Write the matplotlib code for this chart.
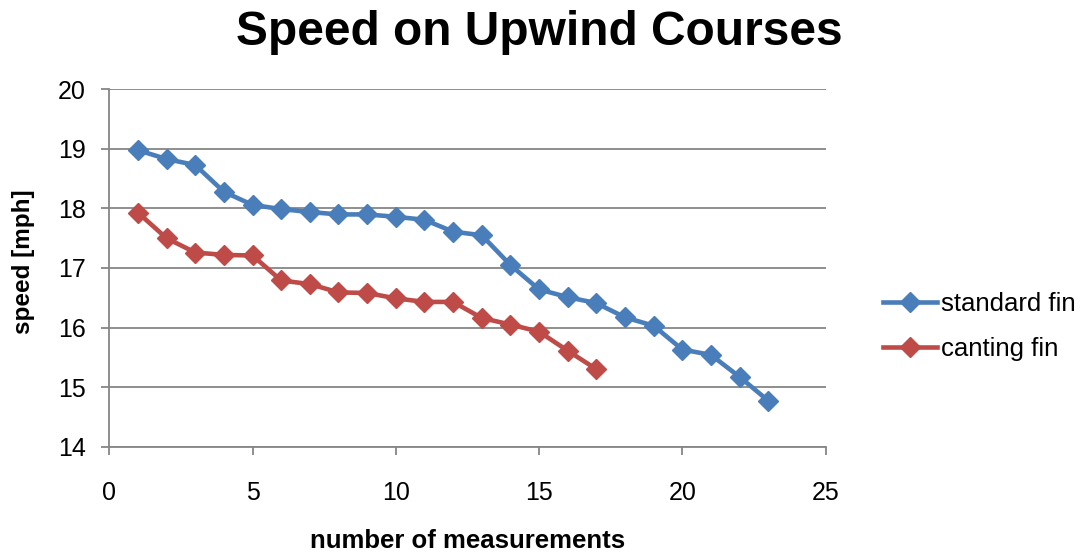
import matplotlib
matplotlib.use("Agg")
import matplotlib.pyplot as plt

measurements_std = list(range(1, 24))
standard_fin = [18.98, 18.83, 18.73, 18.28, 18.06, 17.99, 17.94, 17.90, 17.90, 17.86,
                17.81, 17.61, 17.55, 17.05, 16.64, 16.51, 16.41, 16.17, 16.03, 15.63,
                15.54, 15.17, 14.77]
measurements_cant = list(range(1, 18))
canting_fin = [17.93, 17.50, 17.26, 17.22, 17.21, 16.79, 16.73, 16.59, 16.58, 16.49,
               16.43, 16.43, 16.16, 16.05, 15.93, 15.61, 15.30]

title = "Speed on Upwind Courses"
xlabel = "number of measurements"
ylabel = "speed [mph]"
series_names = ["standard fin", "canting fin"]

plt.rcParams['font.family'] = ['Liberation Sans', 'DejaVu Sans']

fig = plt.figure(figsize=(10.82, 5.52), dpi=100)
ax = fig.add_axes([0.101, 0.191, 0.662, 0.647])

blue = "#4A7EBB"
red = "#BE4B48"
grid_c = "#868686"

ax.plot(measurements_std, standard_fin, color=blue, lw=3.3, marker="D", ms=10,
        label=series_names[0], solid_joinstyle="round")
ax.plot(measurements_cant, canting_fin, color=red, lw=3.3, marker="D", ms=10,
        label=series_names[1], solid_joinstyle="round")

ax.set_xlim(0, 25)
ax.set_ylim(14, 20)
ax.set_xticks(range(0, 26, 5))
ax.set_yticks(range(14, 21))
ax.yaxis.grid(True, color=grid_c, lw=1.3)
ax.set_axisbelow(True)
for s in ["top", "right"]:
    ax.spines[s].set_visible(False)
for s in ["left", "bottom"]:
    ax.spines[s].set_color(grid_c)
    ax.spines[s].set_linewidth(1.3)
ax.tick_params(axis="both", colors=grid_c, labelcolor="black", labelsize=18,
               length=6, width=1.3)
ax.tick_params(axis="x", pad=19)
ax.tick_params(axis="y", pad=11)

ax.set_xlabel(xlabel, fontsize=18.5, fontweight="bold", labelpad=17)
ax.set_ylabel(ylabel, fontsize=17.5, fontweight="bold")
ax.yaxis.set_label_coords(-0.104, 0.518)
fig.suptitle(title, fontsize=34.5, fontweight="bold", x=0.498, y=0.982)

leg = ax.legend(loc="center left", bbox_to_anchor=(0.795, 0.409),
                bbox_transform=fig.transFigure, frameon=False, fontsize=18.5,
                handlelength=2.1, handletextpad=0.15, labelspacing=0.82)

fig.savefig("out.png", dpi=100)
